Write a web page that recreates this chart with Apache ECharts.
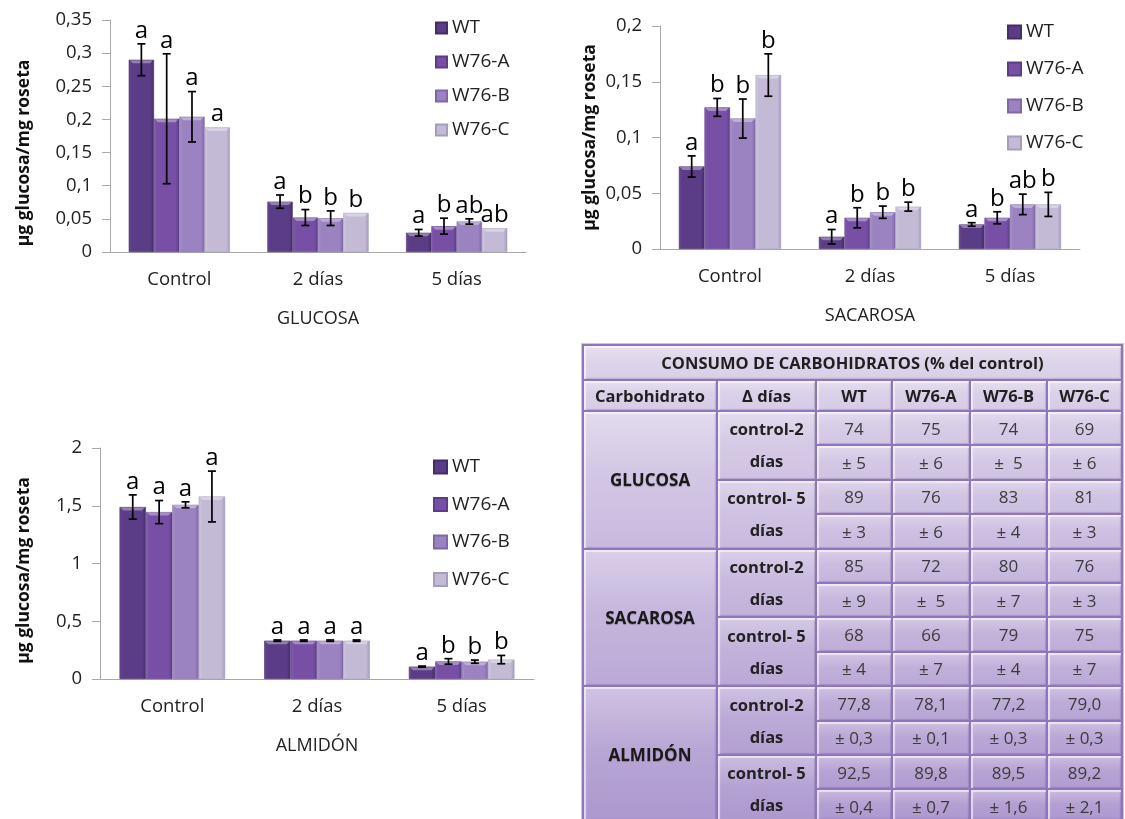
<!DOCTYPE html>
<html><head><meta charset="utf-8">
<script src="https://cdn.jsdelivr.net/npm/echarts@6/dist/echarts.min.js"></script>
<style>
html,body{margin:0;padding:0;background:#fff;overflow:hidden;}
#chart{position:absolute;left:0;top:0;width:1125px;height:819px;}
#tbl{position:absolute;left:582px;top:344px;display:grid;
  grid-template-columns:132px 97px 74px 76px 75px 73px;
  grid-template-rows:33px 29px repeat(12,32.4px);
  gap:2px;padding:2px;background:#8f76bb;box-shadow:0 0 0 1px #cdc5d8;}
#tbl div{display:flex;align-items:center;justify-content:center;text-align:center;
  font-family:'Open Sans',sans-serif;font-size:17px;color:#3b3b3b;
  background:linear-gradient(to bottom,rgba(255,255,255,0.30),rgba(255,255,255,0.06) 45%,rgba(255,255,255,0) 100%),
             linear-gradient(to bottom,#e2dbec 0px,#ddd4ea 344px,#ad98cf 819px) fixed;
  box-shadow:inset 2px 2px 1px rgba(255,255,255,0.6),inset -1px -1px 1px rgba(70,40,110,0.2);}
#tbl div.b{font-weight:bold;color:#1f1f1f;font-size:16.5px;}
#tbl div.carb{font-weight:bold;color:#1a1a1a;font-size:17px;text-shadow:0 1px 1px rgba(0,0,0,0.25);}
#tbl div.per{font-weight:bold;color:#222;line-height:32px;font-size:16.5px;}
</style></head><body>
<div id="chart"></div><div id="tbl"></div>
<script>
// ---------- DATA ----------
const categories = ['Control', '2 días', '5 días'];
const seriesNames = ['WT', 'W76-A', 'W76-B', 'W76-C'];

// GLUCOSA (rows: WT, W76-A, W76-B, W76-C; cols: Control, 2 días, 5 días)
const glucosaMean = [[0.290, 0.076, 0.029], [0.201, 0.052, 0.039], [0.204, 0.051, 0.046], [0.188, 0.059, 0.036]];
const glucosaErr = [[0.024, 0.010, 0.005], [0.098, 0.012, 0.012], [0.038, 0.011, 0.004], [0, 0, 0]];
const glucosaLetters = [['a', 'a', 'a'], ['a', 'b', 'b'], ['a', 'b', 'ab'], ['a', 'b', 'ab']];

// SACAROSA
const sacarosaMean = [[0.074, 0.011, 0.022], [0.127, 0.028, 0.028], [0.117, 0.033, 0.040], [0.156, 0.038, 0.040]];
const sacarosaErr = [[0.0095, 0.0065, 0.0016], [0.008, 0.009, 0.0054], [0.0175, 0.0055, 0.0092], [0.019, 0.004, 0.0108]];
const sacarosaLetters = [['a', 'a', 'a'], ['b', 'b', 'b'], ['b', 'b', 'ab'], ['b', 'b', 'b']];

// ALMIDÓN
const almidonMean = [[1.489, 0.332, 0.107], [1.445, 0.332, 0.152], [1.508, 0.332, 0.150], [1.580, 0.332, 0.168]];
const almidonErr = [[0.105, 0.006, 0.005], [0.100, 0.006, 0.024], [0.026, 0.006, 0.014], [0.220, 0.006, 0.036]];
const almidonLetters = [['a', 'a', 'a'], ['a', 'a', 'b'], ['a', 'a', 'b'], ['a', 'a', 'b']];

const yAxisTitle = 'µg glucosa/mg roseta';

// Table
const tableTitle = 'CONSUMO DE CARBOHIDRATOS (% del control)';
const tableHeaders = ['Carbohidrato', 'Δ días', 'WT', 'W76-A', 'W76-B', 'W76-C'];
const carbohidratos = ['GLUCOSA', 'SACAROSA', 'ALMIDÓN'];
const periodos = [['control-2', 'días'], ['control- 5', 'días']];
const glucosaConsumo = [['74', '75', '74', '69'], ['89', '76', '83', '81']];
const glucosaConsumoErr = [['± 5', '± 6', '±\u00a0 5', '± 6'], ['± 3', '± 6', '± 4', '± 3']];
const sacarosaConsumo = [['85', '72', '80', '76'], ['68', '66', '79', '75']];
const sacarosaConsumoErr = [['± 9', '±\u00a0 5', '± 7', '± 3'], ['± 4', '± 7', '± 4', '± 7']];
const almidonConsumo = [['77,8', '78,1', '77,2', '79,0'], ['92,5', '89,8', '89,5', '89,2']];
const almidonConsumoErr = [['± 0,3', '± 0,1', '± 0,3', '± 0,3'], ['± 0,4', '± 0,7', '± 1,6', '± 2,1']];

// ---------- STYLE / LAYOUT ----------
const FONT = "'Open Sans', sans-serif";
const AXIS_COLOR = '#a8a8a8';
const TEXT_COLOR = '#222';
const CAT_GAP = 0.27;
const barColors = [
  ['#6a4a96', '#5b3c86', '#452d68'],
  ['#8660b4', '#7750a6', '#5d3d86'],
  ['#ab96cc', '#9a83c0', '#7e68a6'],
  ['#d3cde2', '#c3bbd6', '#a69cbc']
];

const panels = [
  { title: 'GLUCOSA', mean: glucosaMean, err: glucosaErr, letters: glucosaLetters, max: 0.35, interval: 0.05,
    grid: { left: 110, top: 20, width: 416, height: 232 },
    legend: { left: 435, top: 18, gap: 14, size: 11 }, nameGap: 77, namePad: 34, tickLen: 43, outerLen: 83 },
  { title: 'SACAROSA', mean: sacarosaMean, err: sacarosaErr, letters: sacarosaLetters, max: 0.2, interval: 0.05,
    grid: { left: 660, top: 26, width: 420, height: 223 },
    legend: { left: 1007, top: 22, gap: 17, size: 13 }, nameGap: 61, namePad: 0, tickLen: 41, outerLen: 81 },
  { title: 'ALMIDÓN', mean: almidonMean, err: almidonErr, letters: almidonLetters, max: 2, interval: 0.5,
    grid: { left: 100, top: 448, width: 434, height: 231 },
    legend: { left: 433, top: 457, gap: 17.5, size: 13 }, nameGap: 67, namePad: 14, tickLen: 41, outerLen: 81 }
];

function fmt(v) { return String(+v.toFixed(2)).replace('.', ','); }

const option = { animation: false, grid: [], xAxis: [], yAxis: [], legend: [], series: [] };

panels.forEach((p, g) => {
  option.grid.push(Object.assign({ containLabel: false }, p.grid));
  option.xAxis.push({
    type: 'category', gridIndex: g, data: categories, position: 'bottom',
    axisLine: { lineStyle: { color: AXIS_COLOR, width: 1 } },
    axisTick: { length: p.tickLen, lineStyle: { color: AXIS_COLOR } },
    axisLabel: { margin: 18, fontSize: 18.5, fontFamily: FONT, color: TEXT_COLOR }
  });
  option.xAxis.push({
    type: 'category', gridIndex: g, data: [p.title], position: 'bottom',
    axisLine: { show: false },
    axisTick: { length: p.outerLen, lineStyle: { color: AXIS_COLOR } },
    axisLabel: { margin: 58, fontSize: 18, fontFamily: FONT, color: TEXT_COLOR }
  });
  option.yAxis.push({
    type: 'value', gridIndex: g, min: 0, max: p.max, interval: p.interval,
    name: yAxisTitle, nameLocation: 'middle', nameRotate: 90, nameGap: p.nameGap,
    nameTextStyle: { fontSize: 17.5, fontWeight: 'bold', fontFamily: FONT, color: '#111',
      padding: [0, p.namePad, 0, 0] },
    axisLine: { show: true, lineStyle: { color: AXIS_COLOR } },
    axisTick: { show: true, length: 8, lineStyle: { color: AXIS_COLOR } },
    splitLine: { show: false },
    axisLabel: { margin: 18, fontSize: 18.5, fontFamily: FONT, color: TEXT_COLOR, formatter: fmt }
  });
  option.legend.push({
    orient: 'vertical', left: p.legend.left, top: p.legend.top, padding: 0,
    itemGap: p.legend.gap, itemWidth: p.legend.size, itemHeight: p.legend.size, icon: 'rect',
    data: seriesNames, selectedMode: false,
    textStyle: { fontSize: 19, fontFamily: FONT, color: TEXT_COLOR, lineHeight: 20 }
  });
  seriesNames.forEach((name, s) => {
    const c = barColors[s];
    option.series.push({
      type: 'bar', name: name, xAxisIndex: 2 * g, yAxisIndex: g,
      barGap: '0%', barCategoryGap: (CAT_GAP * 100) + '%',
      data: p.mean[s],
      itemStyle: {
        color: new echarts.graphic.LinearGradient(0, 0, 1, 0, [
          { offset: 0, color: c[0] }, { offset: 0.12, color: c[1] },
          { offset: 0.85, color: c[1] }, { offset: 1, color: c[2] }]),
        borderColor: c[2], borderWidth: 0.6
      },
      emphasis: { disabled: true }
    });
  });
  const items = [];
  seriesNames.forEach((name, s) => {
    categories.forEach((cat, ci) => { items.push([ci, s, p.mean[s][ci], p.err[s][ci]]); });
  });
  option.series.push({
    type: 'custom', xAxisIndex: 2 * g, yAxisIndex: g, z: 5, silent: true,
    encode: { x: 0, y: 2 }, data: items,
    renderItem: function (params, api) {
      const ci = api.value(0), s = api.value(1), m = api.value(2), e = api.value(3);
      const base = api.coord([ci, 0]);
      const band = api.size([1, 0])[0];
      const bw = band * (1 - CAT_GAP) / 4;
      const x = base[0] + (s - 1.5) * bw;
      const yHi = api.coord([ci, m + e])[1];
      const yLo = api.coord([ci, m - e])[1];
      const yBar = api.coord([ci, m])[1];
      const st = { stroke: '#000', lineWidth: 1.7 };
      const children = [];
      // bevel highlight on bar top
      const hw = bw / 2 - 1;
      children.push({ type: 'polygon', shape: { points: [[x - hw, yBar + 0.5], [x + hw, yBar + 0.5], [x + hw - 3, yBar + 3.5], [x - hw + 3, yBar + 3.5]] },
        style: { fill: 'rgba(255,255,255,0.35)' } });
      if (e > 0) {
        children.push({ type: 'line', shape: { x1: x, y1: yHi, x2: x, y2: yLo }, style: st });
        children.push({ type: 'line', shape: { x1: x - 4, y1: yHi, x2: x + 4, y2: yHi }, style: st });
        children.push({ type: 'line', shape: { x1: x - 4, y1: yLo, x2: x + 4, y2: yLo }, style: st });
      }
      children.push({ type: 'text', x: x, y: Math.min(yHi, yBar) - 1,
        style: { text: p.letters[s][ci], textAlign: 'center', textVerticalAlign: 'bottom',
          fontSize: 24, fontFamily: FONT, fill: '#000' } });
      return { type: 'group', children: children };
    }
  });
});

const chart = echarts.init(document.getElementById('chart'));
chart.setOption(option);

// ---------- TABLE ----------
const tbl = document.getElementById('tbl');
function cell(text, cls, col, row, colSpan, rowSpan) {
  const d = document.createElement('div');
  if (cls) d.className = cls;
  d.innerHTML = text;
  d.style.gridColumn = col + ' / span ' + (colSpan || 1);
  d.style.gridRow = row + ' / span ' + (rowSpan || 1);
  tbl.appendChild(d);
}
cell(tableTitle, 'b', 1, 1, 6, 1);
tableHeaders.forEach((h, j) => cell(h, 'b', j + 1, 2));
const consumoVals = [glucosaConsumo, sacarosaConsumo, almidonConsumo];
const consumoErrs = [glucosaConsumoErr, sacarosaConsumoErr, almidonConsumoErr];
carbohidratos.forEach((cName, c) => {
  const r0 = 3 + 4 * c;
  cell(cName, 'carb', 1, r0, 1, 4);
  periodos.forEach((per, pi) => {
    const r = r0 + 2 * pi;
    cell(per.join('<br>'), 'per', 2, r, 1, 2);
    consumoVals[c][pi].forEach((v, j) => cell(v, '', 3 + j, r));
    consumoErrs[c][pi].forEach((v, j) => cell(v, '', 3 + j, r + 1));
  });
});
</script>
</body></html>
